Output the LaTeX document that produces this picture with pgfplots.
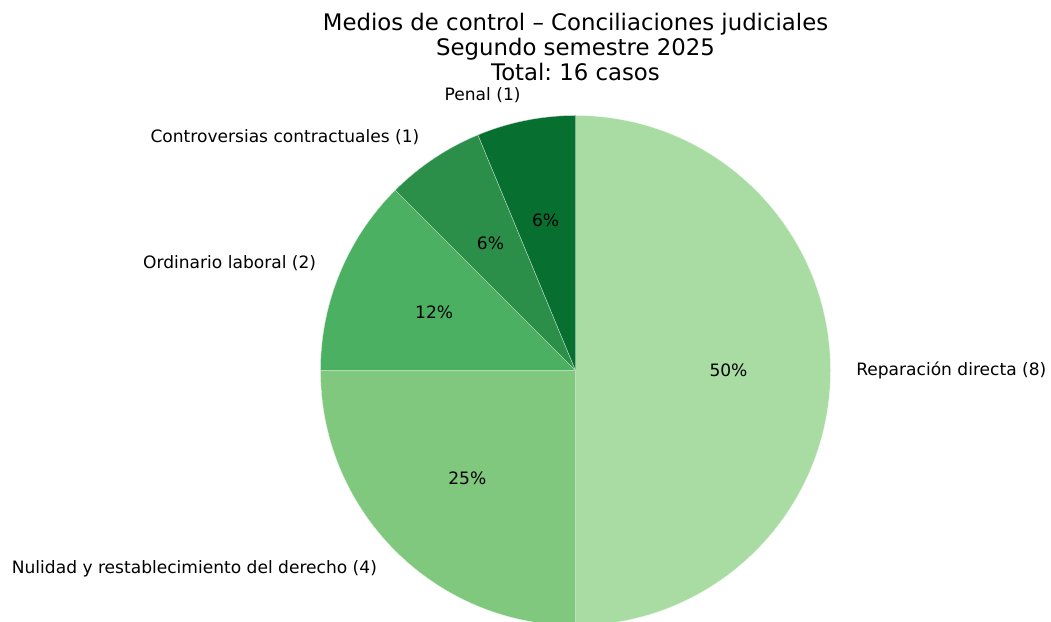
\documentclass[border=0pt]{standalone}
\usepackage{fontspec}
\setmainfont{DejaVu Sans}
\usepackage{pgfplots}
\usepackage{pgfplotstable}
\pgfplotsset{compat=1.18}
\frenchspacing

\definecolor{g1}{RGB}{168,220,162}
\definecolor{g2}{RGB}{127,200,126}
\definecolor{g3}{RGB}{76,176,98}
\definecolor{g4}{RGB}{43,143,74}
\definecolor{g5}{RGB}{7,112,48}

\pgfplotstableread[col sep=comma]{
label,value,color
Reparación directa,8,g1
Nulidad y restablecimiento del derecho,4,g2
Ordinario laboral,2,g3
Controversias contractuales,1,g4
Penal,1,g5
}\datatable

\newcommand\labfont{\fontsize{12.8}{15}\selectfont}
\newcommand\titfont{\fontsize{17.1}{19}\selectfont}

\begin{document}
\begin{tikzpicture}
\begin{axis}[
    x=0.75pt, y=0.75pt,
    scale only axis,
    xmin=-575.5, xmax=475.5,
    ymin=-251.5, ymax=370.5,
    hide axis,
]
\path (rel axis cs:0,0) rectangle (rel axis cs:1,1);

% total of all cases
\def\total{0}
\pgfplotsinvokeforeach{0,...,4}{%
  \pgfplotstablegetelem{#1}{value}\of\datatable
  \pgfmathtruncatemacro{\tmp}{\total+\pgfplotsretval}%
  \xdef\total{\tmp}%
}

\def\R{255}
\xdef\startang{90}
\pgfplotsinvokeforeach{0,...,4}{%
  \pgfplotstablegetelem{#1}{value}\of\datatable \let\val\pgfplotsretval
  \pgfplotstablegetelem{#1}{label}\of\datatable \let\lab\pgfplotsretval
  \pgfplotstablegetelem{#1}{color}\of\datatable \let\col\pgfplotsretval
  \pgfmathsetmacro{\endang}{\startang-360*\val/\total}%
  \pgfmathsetmacro{\midang}{(\startang+\endang)/2}%
  \pgfmathtruncatemacro{\pct}{100*\val/\total}%
  \pgfmathsetmacro{\sx}{\R*cos(\startang)}%
  \pgfmathsetmacro{\sy}{\R*sin(\startang)}%
  \pgfmathsetmacro{\px}{0.6*\R*cos(\midang)}%
  \pgfmathsetmacro{\py}{0.6*\R*sin(\midang)}%
  \pgfmathsetmacro{\lx}{1.1*\R*cos(\midang)}%
  \pgfmathsetmacro{\ly}{1.1*\R*sin(\midang)}%
  \pgfmathparse{\lx>0 ? "west" : "east"}\let\anc\pgfmathresult
  \edef\cmd{%
    \noexpand\fill[\col, draw=white!80!\col, line width=0.25pt] (axis cs:0,0) -- (axis cs:\sx,\sy)
      arc[start angle=\startang, end angle=\endang, radius=191.25pt] -- cycle;
    \noexpand\node[font=\noexpand\labfont, inner sep=0pt] at (axis cs:\px,\py) {\pct\noexpand\%};
    \noexpand\node[font=\noexpand\labfont, inner sep=0pt, anchor=\anc] at (axis cs:\lx,\ly) {\lab\space(\val)};
  }%
  \cmd
  \xdef\startang{\endang}%
}

\node[font=\titfont, align=center, inner sep=0pt] at (axis cs:0,323.5)
  {Medios de control – Conciliaciones judiciales\\Segundo semestre 2025\\Total: \total\ casos};
\end{axis}
\end{tikzpicture}
\end{document}
